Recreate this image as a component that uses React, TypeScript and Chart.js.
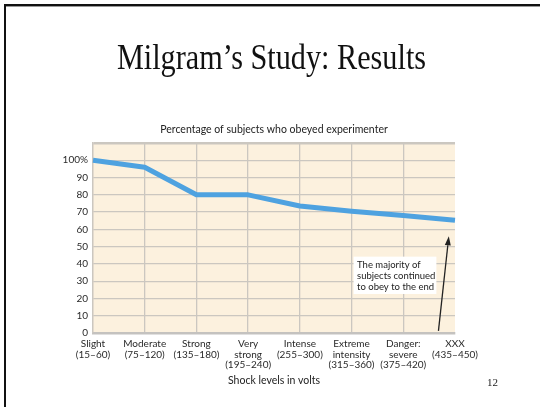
import React, { useEffect, useRef } from "react";
import { Chart, registerables } from "chart.js";

Chart.register(...registerables);

const categories: string[][] = [
  ["Slight", "(15–60)"],
  ["Moderate", "(75–120)"],
  ["Strong", "(135–180)"],
  ["Very", "strong", "(195–240)"],
  ["Intense", "(255–300)"],
  ["Extreme", "intensity", "(315–360)"],
  ["Danger:", "severe", "(375–420)"],
  ["XXX", "(435–450)"],
];
const obeyedPercent: number[] = [100, 96, 80, 80, 73.5, 70.5, 68, 65.3];
const yTicks: number[] = [0, 10, 20, 30, 40, 50, 60, 70, 80, 90, 100];
const noteLines: string[] = ["The majority of", "subjects continued", "to obey to the end"];

const FONT = "Lato, 'Liberation Sans', sans-serif";

const bgPlugin = {
  id: "plotBg",
  beforeDraw(chart: any) {
    const { ctx, chartArea } = chart;
    ctx.save();
    ctx.fillStyle = "#fcf1de";
    ctx.fillRect(chartArea.left, chartArea.top, chartArea.right - chartArea.left, chartArea.bottom - chartArea.top);
    ctx.restore();
  },
};

const notePlugin = {
  id: "note",
  afterDatasetsDraw(chart: any) {
    const { ctx } = chart;
    const xs = chart.scales.x;
    const ys = chart.scales.y;
    // note box
    const left = xs.getPixelForValue(5) + 2;
    const right = xs.getPixelForValue(6.64);
    const top = ys.getPixelForValue(44.2);
    const bottom = ys.getPixelForValue(22.6);
    ctx.save();
    ctx.fillStyle = "#ffffff";
    ctx.fillRect(left, top, right - left, bottom - top);
    ctx.fillStyle = "#222";
    ctx.font = `9.5px ${FONT}`;
    ctx.textBaseline = "middle";
    ctx.textAlign = "left";
    noteLines.forEach((t, i) => {
      ctx.fillText(t, left + 3.5, top + 8.7 + i * 10.6);
    });
    // arrow
    const x0 = xs.getPixelForValue(6.68);
    const y0 = ys.getPixelForValue(1.2);
    const x1 = xs.getPixelForValue(6.88);
    const y1 = ys.getPixelForValue(56);
    const ang = Math.atan2(y1 - y0, x1 - x0);
    const headLen = 9;
    const headW = 3;
    const bx = x1 - headLen * Math.cos(ang);
    const by = y1 - headLen * Math.sin(ang);
    ctx.strokeStyle = "#222";
    ctx.lineWidth = 1.3;
    ctx.beginPath();
    ctx.moveTo(x0, y0);
    ctx.lineTo(bx, by);
    ctx.stroke();
    ctx.fillStyle = "#222";
    ctx.beginPath();
    ctx.moveTo(x1, y1);
    ctx.lineTo(bx + headW * Math.sin(ang), by - headW * Math.cos(ang));
    ctx.lineTo(bx - headW * Math.sin(ang), by + headW * Math.cos(ang));
    ctx.closePath();
    ctx.fill();
    ctx.restore();
  },
};

export default function App() {
  const canvasRef = useRef<HTMLCanvasElement | null>(null);

  useEffect(() => {
    document.body.style.margin = "0";
    const canvas = canvasRef.current;
    if (!canvas) return;
    const chart = new Chart(canvas, {
      type: "line",
      data: {
        labels: categories,
        datasets: [
          {
            label: "Percentage obeyed",
            data: obeyedPercent,
            borderColor: "#4ea2e0",
            borderWidth: 5,
            pointRadius: 0,
            tension: 0,
            fill: false,
            borderJoinStyle: "round",
            borderCapStyle: "butt",
          },
        ],
      },
      options: {
        responsive: false,
        animation: false,
        devicePixelRatio: 1,
        layout: { padding: { left: 0, right: 85, top: 123, bottom: 20 } },
        plugins: {
          legend: { display: false },
          tooltip: { enabled: false },
          title: {
            display: true,
            text: "Percentage of subjects who obeyed experimenter",
            fullSize: false,
            color: "#222",
            font: { family: FONT, size: 10.5, weight: "normal", lineHeight: 1.2 },
            padding: { top: 0.5, bottom: 6.9 },
          },
        },
        scales: {
          x: {
            type: "category",
            offset: false,
            afterFit(scale: any) {
              scale.height = 54;
            },
            grid: {
              color: (c: any) => (c.index === categories.length - 1 ? "rgba(0,0,0,0)" : "#cbc7c0"),
              lineWidth: 1.3,
              drawTicks: false,
            },
            border: { display: true, color: "#c4c2bf", width: 2.5 },
            ticks: {
              color: "#2a2a2a",
              padding: 6,
              maxRotation: 0,
              autoSkip: false,
              font: { family: FONT, size: 10, lineHeight: 1.05 },
            },
            title: {
              display: true,
              text: "Shock levels in volts",
              color: "#222",
              font: { family: FONT, size: 10.5, lineHeight: 1.2 },
              padding: { top: 0, bottom: 0.3 },
            },
          },
          y: {
            min: 0,
            max: 110,
            afterFit(scale: any) {
              scale.width = 93;
            },
            afterBuildTicks(scale: any) {
              scale.ticks = [...yTicks, 110].map((v) => ({ value: v }));
            },
            grid: {
              color: "#cbc7c0",
              lineWidth: (c: any) => (c.tick && c.tick.value === 110 ? 2.5 : 1.3),
              drawTicks: false,
            },
            border: { display: true, color: "#cbc7c0", width: 1.3 },
            ticks: {
              color: "#2a2a2a",
              padding: 5,
              font: { family: FONT, size: 10 },
              callback: (v: any) => (v === 110 ? "" : v === 100 ? "100%" : String(v)),
            },
          },
        },
      },
      plugins: [bgPlugin, notePlugin],
    });
    return () => chart.destroy();
  }, []);

  return (
    <div style={{ position: "relative", width: 540, height: 407, background: "#fff", overflow: "hidden" }}>
      <div style={{ position: "absolute", left: 4, top: 4, width: 536, height: 2, background: "#111" }} />
      <div style={{ position: "absolute", left: 4, top: 6, width: 536, height: 1, background: "#999" }} />
      <div style={{ position: "absolute", left: 4, top: 4, width: 2, height: 403, background: "#111" }} />
      <canvas ref={canvasRef} width={540} height={407} style={{ position: "absolute", left: 0, top: 0, width: 540, height: 407 }} />
      <div
        style={{
          position: "absolute",
          left: 0,
          width: 543,
          top: 37,
          textAlign: "center",
          fontFamily: "'Liberation Serif', 'Times New Roman', serif",
          fontSize: 36,
          lineHeight: "40px",
          color: "#111",
          transform: "scaleX(0.84)",
          transformOrigin: "271.5px 0",
          whiteSpace: "nowrap",
        }}
      >
        Milgram’s Study: Results
      </div>
      <div
        style={{
          position: "absolute",
          left: 487,
          top: 376,
          fontFamily: "'Liberation Serif', 'Times New Roman', serif",
          fontSize: 11,
          color: "#222",
        }}
      >
        12
      </div>
    </div>
  );
}
